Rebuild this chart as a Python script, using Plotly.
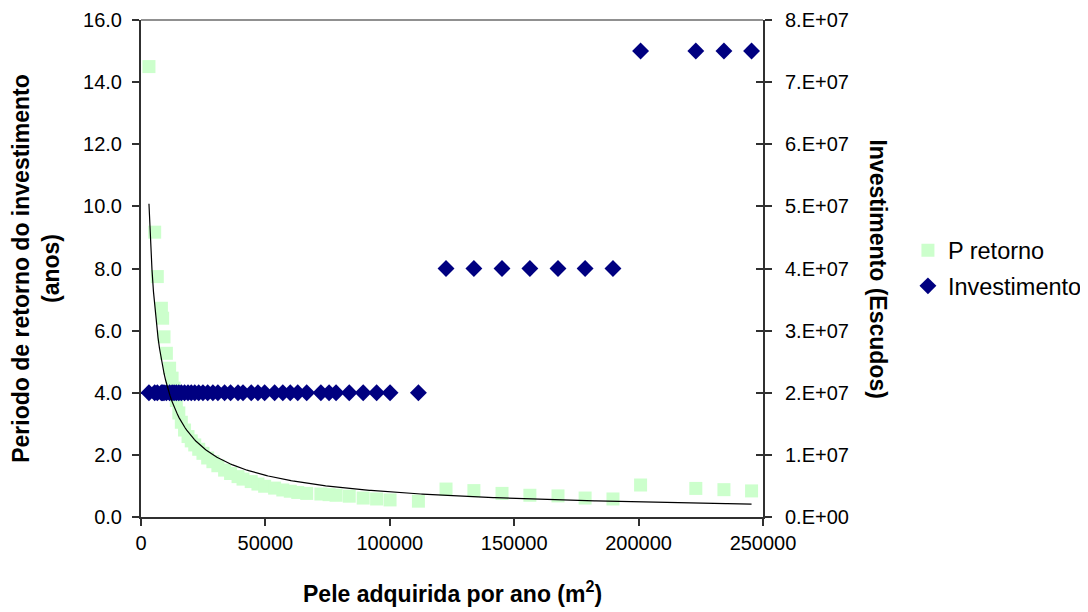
import numpy as np
import plotly.graph_objects as go

# Pele adquirida por ano (m2)
pele = [3200, 5500, 6550, 8200, 8700, 9250, 10200, 11500, 12500, 13300,
        14200, 15200, 16200, 17500, 18900, 20200, 21600, 23200, 24900, 26800,
        28900, 30900, 33600, 36000, 39000, 41000, 44300, 47000, 49700, 53700,
        57000, 60000, 63000, 66600, 72300, 75600, 78400, 83700, 89300, 94700,
        100100, 111500, 122600, 133800, 145100, 156300, 167600, 178500, 189700,
        200800, 223000, 234300, 245400]
# Periodo de retorno (anos)
p_retorno = [14.5, 9.17, 7.74, 6.72, 6.40, 5.80, 5.27, 4.79, 4.47, 4.15,
             3.75, 3.35, 3.05, 2.80, 2.59, 2.45, 2.32, 2.18, 2.05, 1.90,
             1.78, 1.65, 1.51, 1.40, 1.30, 1.22, 1.14, 1.06, 0.99, 0.93,
             0.87, 0.83, 0.79, 0.76, 0.74, 0.72, 0.70, 0.67, 0.61, 0.58,
             0.55, 0.51, 0.90, 0.85, 0.76, 0.70, 0.68, 0.61, 0.58,
             1.03, 0.92, 0.88, 0.84]
# Investimento (Escudos)
investimento = [2e7] * 42 + [4e7] * 7 + [7.5e7] * 4

left_ticks = [0, 2, 4, 6, 8, 10, 12, 14, 16]
right_tickvals = [0, 1e7, 2e7, 3e7, 4e7, 5e7, 6e7, 7e7, 8e7]
right_ticktext = ["0.E+00", "1.E+07", "2.E+07", "3.E+07", "4.E+07",
                  "5.E+07", "6.E+07", "7.E+07", "8.E+07"]
x_ticks = [0, 50000, 100000, 150000, 200000, 250000]

# power trendline (least squares in log-log space, like a spreadsheet power fit)
lx = np.log(np.array(pele, dtype=float))
ly = np.log(np.array(p_retorno, dtype=float))
b, ln_a = np.polyfit(lx, ly, 1)
trend_x = np.linspace(min(pele), max(pele), 400)
trend_y = np.exp(ln_a) * trend_x ** b

FONT = "Arial, Liberation Sans, sans-serif"
AX = "#303030"

fig = go.Figure()
fig.add_trace(go.Scatter(
    x=pele, y=p_retorno, mode="markers", name="P retorno",
    marker=dict(symbol="square", size=13, color="#CCFFCC"),
    legendgroup="a", yaxis="y"))
fig.add_trace(go.Scatter(
    x=pele, y=investimento, mode="markers", name="Investimento",
    marker=dict(symbol="diamond", size=13, color="#000080"),
    legendgroup="b", yaxis="y2"))
fig.add_trace(go.Scatter(
    x=trend_x, y=trend_y, mode="lines", showlegend=False,
    line=dict(color="black", width=1.2), yaxis="y3", hoverinfo="skip"))

axis_common = dict(showgrid=False, zeroline=False, showline=True,
                   linecolor=AX, linewidth=2, ticks="outside",
                   ticklen=7, tickcolor=AX, tickwidth=1.5, automargin=False,
                   tickfont=dict(family=FONT, size=20, color="black"))

fig.update_layout(
    width=1088, height=612,
    margin=dict(l=133, r=333, t=12, b=103, autoexpand=False),
    paper_bgcolor="white", plot_bgcolor="white",
    xaxis=dict(range=[0, 250000], tickvals=x_ticks, tickformat="d",
               **axis_common),
    yaxis=dict(range=[0, 16], tickvals=left_ticks, tickformat=".1f",
               ticklabelstandoff=6, **axis_common),
    yaxis2=dict(range=[0, 8e7], overlaying="y", side="right",
                tickvals=right_tickvals, ticktext=right_ticktext,
                ticklabelstandoff=9, **axis_common),
    yaxis3=dict(range=[0, 16], overlaying="y", visible=False, automargin=False),
    yaxis4=dict(range=[0, 8e7], overlaying="y", side="right",
                tickvals=right_tickvals, showticklabels=False,
                showgrid=False, zeroline=False, showline=False, automargin=False,
                ticks="inside", ticklen=7, tickcolor=AX, tickwidth=1.5),
    showlegend=True,
    legend=dict(x=1.233, y=0.5, xanchor="left", yanchor="middle",
                traceorder="grouped", tracegroupgap=2, itemwidth=30,
                font=dict(family=FONT, size=23.5, color="black"),
                bgcolor="rgba(0,0,0,0)"),
    shapes=[dict(type="line", xref="paper", yref="paper", x0=0, x1=1,
                 y0=1, y1=1, line=dict(color="#909090", width=2),
                 layer="below")],
    annotations=[
        dict(text="<b>Pele adquirida por ano (m<sup>2</sup>)</b>", xref="paper",
             yref="paper", x=0.5, y=-0.151, xanchor="center", yanchor="middle",
             showarrow=False,
             font=dict(family=FONT, size=23, color="black")),
        dict(text="<b>Periodo de retorno do investimento</b><br><b>(anos)</b>",
             xref="paper", yref="paper", x=-0.17, y=0.5, textangle=-90,
             xanchor="center", yanchor="middle", showarrow=False,
             font=dict(family=FONT, size=23, color="black")),
        dict(text="<b>Investimento (Escudos)</b>", xref="paper", yref="paper",
             x=1.185, y=0.5, textangle=90, xanchor="center",
             yanchor="middle", showarrow=False,
             font=dict(family=FONT, size=23, color="black")),
    ],
)
# invisible trace to activate the inside-tick axis
fig.add_trace(go.Scatter(x=[None], y=[None], yaxis="y4", showlegend=False,
                         hoverinfo="skip"))

fig.write_html("out.html")
